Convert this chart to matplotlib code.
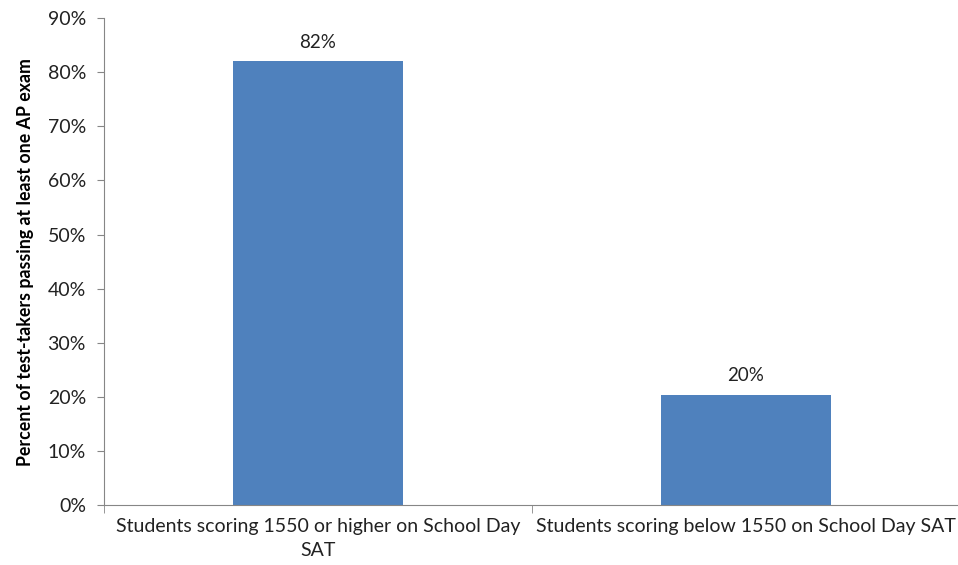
import matplotlib.pyplot as plt
import numpy as np

# data
categories = ["Students scoring 1550 or higher on School Day\nSAT",
              "Students scoring below 1550 on School Day SAT"]
values = [82, 20.4]
labels = ["82%", "20%"]

plt.rcParams['font.family'] = ['Lato', 'DejaVu Sans']

fig = plt.figure(figsize=(9.58, 5.65), dpi=100)
ax = fig.add_axes([0.1086, 0.106, 0.8935, 0.862])

x = np.arange(len(categories))
bars = ax.bar(x, values, width=0.397, color="#4F81BD")

for b, lab in zip(bars, labels):
    ax.text(b.get_x() + b.get_width() / 2, b.get_height() + 2.0, lab,
            ha="center", va="bottom", fontsize=13.5, color="#222222")

ax.set_xlim(-0.5, 1.5)
ax.set_ylim(0, 90)
ax.set_yticks(np.arange(0, 91, 10))
ax.set_yticklabels([f"{v}%" for v in range(0, 91, 10)], fontsize=14, color="#222222")

ax.set_xticks(x)
ax.set_xticklabels(categories, fontsize=14, color="#222222", linespacing=1.5)
ax.tick_params(axis="x", which="major", length=0, pad=9)
ax.set_xticks([-0.5, 0.5, 1.5], minor=True)
ax.tick_params(axis="x", which="minor", length=6, color="#868686", direction="out")
ax.tick_params(axis="y", length=5, color="#868686", direction="out", pad=8)

ax.set_ylabel("Percent of test-takers passing at least one AP exam",
              fontsize=12.8, fontweight="bold", labelpad=10)

for s in ["top", "right"]:
    ax.spines[s].set_visible(False)
for s in ["left", "bottom"]:
    ax.spines[s].set_color("#868686")

fig.savefig("out.png", dpi=100)
